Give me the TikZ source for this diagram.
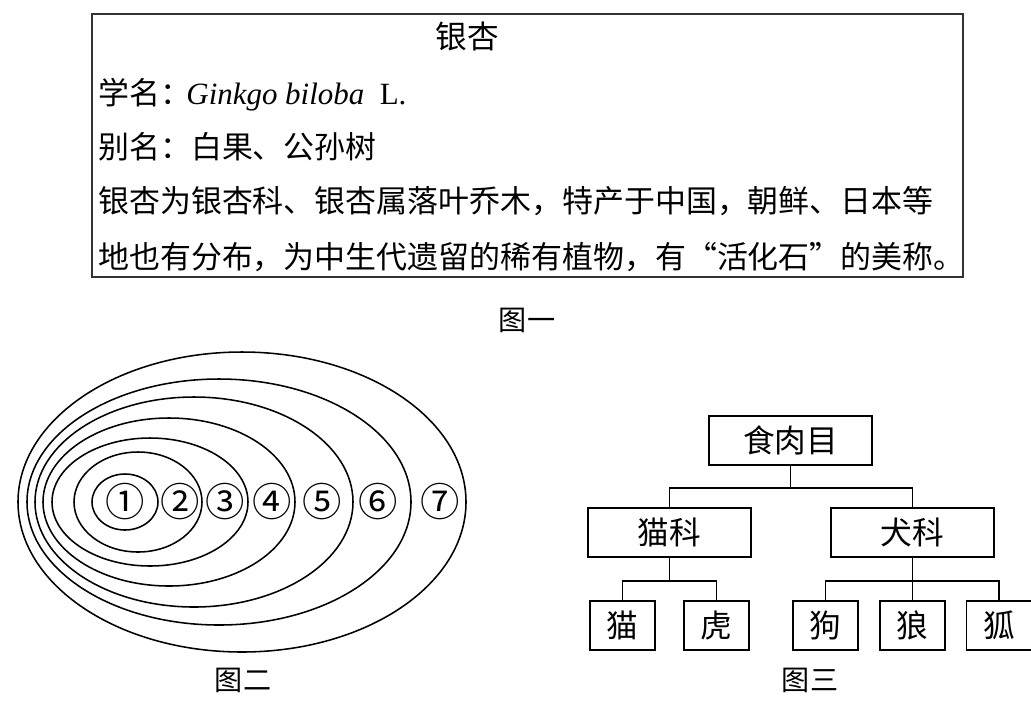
\documentclass[tikz,border=0pt]{standalone}
\usepackage{fontspec}
\setmainfont{Noto Sans CJK SC}
\newfontfamily\latinfont{Liberation Serif}
\usetikzlibrary{positioning}
\tikzset{
  textline/.style={anchor=west, inner sep=0pt, font=\fontsize{22}{27}\selectfont},
  caption/.style={inner sep=0pt, font=\fontsize{20}{24}\selectfont},
  ring/.style={inner sep=0pt, font=\fontsize{28}{32}\selectfont},
  taxon/.style={draw, line width=1.3pt, inner sep=0pt, minimum width=4.075cm,
    minimum height=1.225cm, font=\fontsize{22.5}{27}\selectfont},
  species/.style={taxon, minimum width=1.625cm},
  link/.style={line width=1.3pt}
}
\begin{document}
\begin{tikzpicture}[x=0.025cm, y=-0.025cm]
  \useasboundingbox (0,0) rectangle (1031,713);

  % figure one: the ginkgo card
  \draw[line width=0.8pt, black!80] (92,14) rectangle (963,277);
  \node[caption, font=\fontsize{22.5}{27}\selectfont] (title) at (467,36) {银杏};
  \node[textline] (sciname) at (98,95) {学名：\hspace{-0.15em}\latinfont\itshape Ginkgo biloba\upshape\ \ L.};
  \node[textline] (alias) at (98,147) {别名：白果、公孙树};
  \node[textline] (descA) at (98,201) {银杏为银杏科、银杏属落叶乔木，特产于中国，朝鲜、日本等};
  \node[textline] (descB) at (98,257) {地也有分布，为中生代遗留的稀有植物，有“活化石”的美称。};
  \node[caption] (fig1) at (527,320) {图一};

  % figure two: nested ellipses
  \foreach \cx/\rx/\ry in {242/224/150, 219/192/123, 194/159/105, 169/126/84,
                           150/98/64, 138/64/50, 125/33/28}
    \draw[line width=1.1pt] (\cx,502) ellipse [x radius=\rx, y radius=\ry];
  \foreach \n/\lx [count=\i] in {①/125, ②/180, ③/225, ④/272, ⑤/322, ⑥/378, ⑦/440}
    \node[ring] (ring\i) at (\lx,502) {\n};
  \node[caption] (fig2) at (243,680) {图二};

  % figure three: carnivora tree
  \node[taxon] (order) at (790.5,440.5) {食肉目};
  \node[taxon] (felidae) at (669.5,532.5) {猫科};
  \node[taxon] (canidae) at (912.5,532.5) {犬科};
  \node[species] (cat) at (622.5,625.5) {猫};
  \node[species] (tiger) at (716.5,625.5) {虎};
  \node[species] (dog) at (825.5,625.5) {狗};
  \node[species] (wolf) at (912.5,625.5) {狼};
  \node[species] (fox) at (999,625.5) {狐};
  \coordinate (orderjoin) at (790.5,488);
  \coordinate (felidjoin) at (669.5,581);
  \coordinate (canidjoin) at (912.5,581);
  \draw[link] (order.south) -- (orderjoin);
  \draw[link] (felidae.north) |- (orderjoin) -| (canidae.north);
  \draw[link] (felidae.south) -- (felidjoin);
  \draw[link] (cat.north) |- (felidjoin) -| (tiger.north);
  \draw[link] (canidae.south) -- (wolf.north);
  \draw[link] (dog.north) |- (canidjoin) -| (fox.north);
  \node[caption] (fig3) at (810,680) {图三};
\end{tikzpicture}
\end{document}
